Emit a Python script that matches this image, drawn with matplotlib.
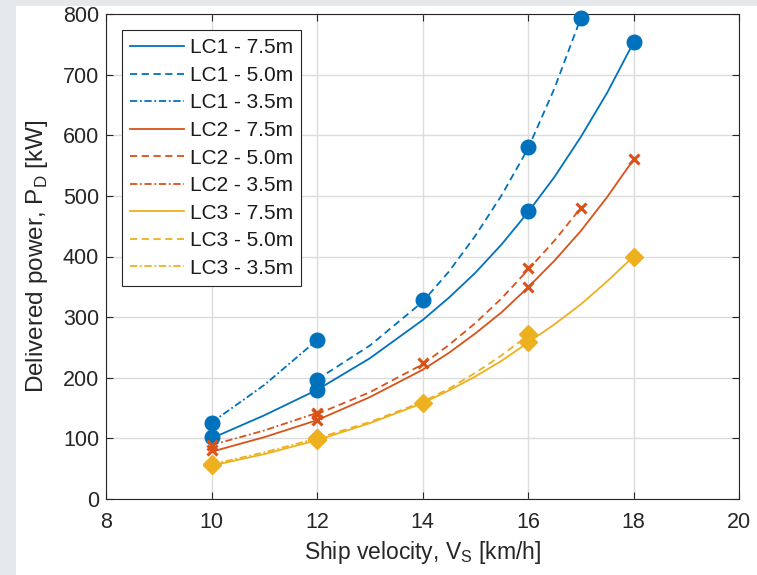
import numpy as np
import matplotlib.pyplot as plt
from matplotlib.patches import Rectangle

#------------------------------------------------------------------------------------------
# Delivered power vs ship velocity for three loading conditions and three water depths
#------------------------------------------------------------------------------------------

blue = '#0072BD'
orange = '#D95319'
yellow = '#EDB120'

# measured points (markers)
v_75 = [10, 12, 16, 18]
v_50 = [12, 14, 16, 17]
v_35 = [10, 12]

lc1_75 = [103, 180, 475, 753]
lc1_50 = [197, 328, 581, 793]
lc1_35 = [126, 262]
lc2_75 = [81, 131, 349, 560]
lc2_50 = [140, 224, 381, 480]
lc2_35 = [89, 142]
lc3_75 = [56, 97, 259, 400]
lc3_50 = [100, 158, 272]
lc3_35 = [57, 100]

# fitted curves
cv_75 = [10, 11, 12, 13, 14, 14.5, 15, 15.5, 16, 16.5, 17, 17.5, 18]
cv_50 = [12, 13, 14, 14.5, 15, 15.5, 16, 16.5, 17]
cv_35 = [10, 11, 12]

c1_75 = [100, 138, 180, 232, 295, 332, 373, 420, 473, 531, 597, 670, 753]
c1_50 = [197, 253, 325, 375, 434, 501, 578, 677, 793]
c1_35 = [126, 188, 262]
c2_75 = [78, 102, 130, 168, 213, 241, 273, 308, 349, 393, 442, 498, 560]
c2_50 = [140, 176, 222, 254, 290, 331, 378, 426, 480]
c2_35 = [89, 113, 142]
c3_75 = [55, 74, 97, 125, 158, 179, 202, 228, 258, 288, 321, 359, 400]
c3_50 = [100, 127, 160, 182, 208, 237, 270]
c3_35 = [57, 77, 100]

plt.rcParams['font.family'] = ['Liberation Sans', 'DejaVu Sans']

fig = plt.figure(figsize=(7.57, 5.75), dpi=100)
fig.patch.set_facecolor('#e6e9ec')
bg = Rectangle((16 / 757, 0), 1, 1 - 6 / 575, transform=fig.transFigure,
               facecolor='white', edgecolor='none', zorder=-10)
fig.add_artist(bg)

ax = fig.add_axes([106 / 757, 76 / 575, 633 / 757, 485 / 575])

dashed = (4, 2.5)
dashdot = (4, 1.5, 1, 1.5)
lw = 1.3

curves = [
    (cv_75, c1_75, blue, None, 'LC1 - 7.5m'),
    (cv_50, c1_50, blue, dashed, 'LC1 - 5.0m'),
    (cv_35, c1_35, blue, dashdot, 'LC1 - 3.5m'),
    (cv_75, c2_75, orange, None, 'LC2 - 7.5m'),
    (cv_50, c2_50, orange, dashed, 'LC2 - 5.0m'),
    (cv_35, c2_35, orange, dashdot, 'LC2 - 3.5m'),
    (cv_75, c3_75, yellow, None, 'LC3 - 7.5m'),
    (cv_50[:7], c3_50, yellow, dashed, 'LC3 - 5.0m'),
    (cv_35, c3_35, yellow, dashdot, 'LC3 - 3.5m'),
]
for x, y, col, dash, lab in curves:
    line, = ax.plot(x, y, color=col, lw=lw, label=lab, zorder=3)
    if dash is not None:
        line.set_dashes(dash)

points = [
    (v_75, lc1_75, blue, 'o'), (v_50, lc1_50, blue, 'o'), (v_35, lc1_35, blue, 'o'),
    (v_75, lc2_75, orange, 'x'), (v_50, lc2_50, orange, 'x'), (v_35, lc2_35, orange, 'x'),
    (v_75, lc3_75, yellow, 'D'), (v_50[:3], lc3_50, yellow, 'D'), (v_35, lc3_35, yellow, 'D'),
]
for x, y, col, m in points:
    if m == 'o':
        ax.plot(x, y, 'o', color=col, ms=10.5, mec=col, clip_on=False, zorder=4)
    elif m == 'x':
        ax.plot(x, y, 'x', color=col, ms=7.5, mew=2.2, clip_on=False, zorder=4)
    else:
        ax.plot(x, y, 'D', color=col, ms=9, mec=col, clip_on=False, zorder=4)

ax.set_xlim(8, 20)
ax.set_ylim(0, 800)
ax.set_xticks(np.arange(8, 21, 2))
ax.set_yticks(np.arange(0, 801, 100))
ax.grid(True, color='#dcdcdc', lw=1.0)
ax.set_axisbelow(True)
ax.tick_params(direction='in', length=5, width=0.8, colors='#262626', labelsize=15.5,
               top=True, right=True, labelcolor='#262626')
ax.tick_params(axis='x', pad=9)
ax.tick_params(axis='y', pad=5)
for s in ax.spines.values():
    s.set_color('#262626')
    s.set_linewidth(0.8)

ax.set_xlabel('Ship velocity, V$_\\mathregular{S}$ [km/h]', fontsize=16.5, color='#262626',
              labelpad=5)
ax.set_ylabel('Delivered power, P$_\\mathregular{D}$ [kW]', fontsize=17.5, color='#262626',
              labelpad=9)

leg = ax.legend(loc='upper left', bbox_to_anchor=(0.025, 0.967), fontsize=15,
                handlelength=2.6, handletextpad=0.25, labelspacing=0.41,
                borderpad=0.4, fancybox=False, framealpha=1, borderaxespad=0)
leg.get_frame().set_edgecolor('#262626')
leg.get_frame().set_linewidth(0.8)
for t in leg.get_texts():
    t.set_color('#1a1a1a')

plt.savefig('out.png', dpi=100)
